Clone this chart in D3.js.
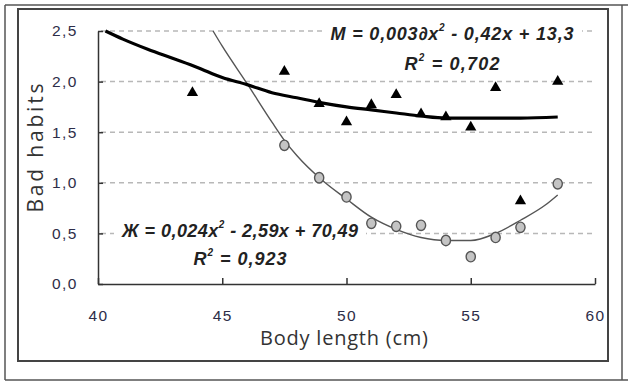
<!doctype html>
<html lang="en">
  <head>
    <meta charset="UTF-8" />
    <title>Bad habits vs body length</title>
    <script src="https://d3js.org/d3.v7.min.js"></script>
    <style>
      body {
        margin: 0;
        padding: 0;
        background: #fff;
      }

      .axis path,
      .axis line {
        fill: none;
        stroke: #333;
        stroke-width: 1.5px;
      }

      .axis text {
        font-family: 'Liberation Sans', Arial, sans-serif;
        font-size: 15.5px;
        fill: #2d2d48;
        letter-spacing: 1.5px;
      }

      .grid {
        stroke: #b8b8b8;
        stroke-width: 1.5px;
        stroke-dasharray: 5 4;
      }

      .eq {
        font-family: 'Liberation Sans Narrow', 'Liberation Sans', Arial, sans-serif;
        font-size: 18px;
        font-weight: bold;
        font-style: italic;
        fill: #222;
      }

      .title {
        font-family: 'Open Sans', sans-serif;
        font-size: 20px;
        fill: #333;
      }
    </style>
  </head>
  <body>
    <svg id="chart" width="635" height="386"></svg>

    <script>
      // Males (triangles)
      const maleX = [43.8, 47.5, 48.9, 50, 51, 52, 53, 54, 55, 56, 57, 58.5];
      const maleY = [1.89, 2.1, 1.78, 1.6, 1.77, 1.87, 1.68, 1.65, 1.55, 1.94, 0.82, 2.0];

      // Females (circles)
      const femaleX = [47.5, 48.9, 50, 51, 52, 53, 54, 55, 56, 57, 58.5];
      const femaleY = [1.37, 1.05, 0.86, 0.6, 0.57, 0.58, 0.43, 0.27, 0.46, 0.56, 0.99];

      // trend lines
      const maleTrendX = [40.3, 41, 42, 43, 44, 45, 46, 47, 48, 49, 50, 51, 52, 53, 54, 55, 56, 57, 58.5];
      const maleTrendY = [2.5, 2.42, 2.32, 2.23, 2.14, 2.04, 1.97, 1.89, 1.84, 1.79, 1.75, 1.72, 1.69, 1.66, 1.64, 1.64, 1.64, 1.64, 1.65];
      const femaleTrendX = [44.63, 45, 46, 47, 47.5, 48, 49, 50, 51, 52, 53, 54, 55, 56, 57, 58, 58.5];
      const femaleTrendY = [2.5, 2.35, 1.98, 1.6, 1.42, 1.27, 1.03, 0.84, 0.66, 0.54, 0.46, 0.43, 0.43, 0.5, 0.63, 0.78, 0.88];

      const xTicks = [40, 45, 50, 55, 60];
      const yTicks = [0, 0.5, 1, 1.5, 2, 2.5];

      const svg = d3.select('#chart');

      // frames
      const frame = svg.append('g').attr('fill', 'none');
      frame
        .append('path')
        .attr('d', 'M5,5H628M5,380H628M5,5V380M622,5V380')
        .attr('stroke', '#555')
        .attr('stroke-width', 1.5);
      frame
        .append('rect')
        .attr('x', 18)
        .attr('y', 9)
        .attr('width', 590)
        .attr('height', 352)
        .attr('stroke', '#444')
        .attr('stroke-width', 2);

      const x = d3.scaleLinear().domain([40, 60]).range([98, 595]);
      const y = d3.scaleLinear().domain([0, 2.5]).range([284, 31]);

      // grid
      svg
        .selectAll('.grid')
        .data(yTicks.filter((d) => d > 0))
        .enter()
        .append('line')
        .attr('class', 'grid')
        .attr('x1', x(40) + 3)
        .attr('x2', x(60))
        .attr('y1', (d) => y(d))
        .attr('y2', (d) => y(d));

      // white boxes behind the equations (hide the grid)
      svg
        .append('rect')
        .attr('x', 324)
        .attr('y', 20)
        .attr('width', 258)
        .attr('height', 54)
        .attr('fill', '#fff');
      svg
        .append('rect')
        .attr('x', 114)
        .attr('y', 218)
        .attr('width', 252)
        .attr('height', 52)
        .attr('fill', '#fff');

      const comma = (d) => d3.format('.1f')(d).replace('.', ',');

      svg
        .append('g')
        .attr('class', 'axis')
        .attr('transform', `translate(${x(40)},0)`)
        .call(
          d3.axisLeft(y).tickValues(yTicks).tickSize(-5).tickPadding(20).tickSizeOuter(0).tickFormat(comma),
        );

      svg
        .append('g')
        .attr('class', 'axis')
        .attr('transform', `translate(0,${y(0)})`)
        .call(d3.axisBottom(x).tickValues(xTicks).tickSize(-6).tickPadding(26).tickSizeOuter(0));

      // trend lines
      const line = d3
        .line()
        .x((d) => x(d[0]))
        .y((d) => y(d[1]))
        .curve(d3.curveMonotoneX);

      svg
        .append('path')
        .attr('d', line(femaleTrendX.map((d, i) => [d, femaleTrendY[i]])))
        .attr('fill', 'none')
        .attr('stroke', '#555')
        .attr('stroke-width', 1.4);

      svg
        .append('path')
        .attr('d', line(maleTrendX.map((d, i) => [d, maleTrendY[i]])))
        .attr('fill', 'none')
        .attr('stroke', '#000')
        .attr('stroke-width', 3.2);

      // markers
      svg
        .selectAll('.tri')
        .data(maleX)
        .enter()
        .append('path')
        .attr('d', d3.symbol(d3.symbolTriangle, 55))
        .attr('transform', (d, i) => `translate(${x(d)},${y(maleY[i])})`)
        .attr('fill', '#000');

      svg
        .selectAll('.dot')
        .data(femaleX)
        .enter()
        .append('ellipse')
        .attr('cx', (d) => x(d))
        .attr('cy', (d, i) => y(femaleY[i]))
        .attr('rx', 4.6)
        .attr('ry', 5.2)
        .attr('fill', '#c4c4c4')
        .attr('stroke', '#555')
        .attr('stroke-width', 1.4);

      // equation labels
      function equation(cx, y1, y2, name, eq1, eq2, r2, w1, w2) {
        const t = svg
          .append('text')
          .attr('class', 'eq')
          .attr('x', cx)
          .attr('y', y1)
          .attr('text-anchor', 'middle')
          .attr('textLength', w1)
          .attr('lengthAdjust', 'spacing');
        t.append('tspan').text(name + ' = ' + eq1);
        t.append('tspan').attr('dy', -9).attr('font-size', 10).text('2');
        t.append('tspan').attr('dy', 9).text(' ' + eq2);

        const r = svg
          .append('text')
          .attr('class', 'eq')
          .attr('x', cx)
          .attr('y', y2)
          .attr('text-anchor', 'middle')
          .attr('textLength', w2)
          .attr('lengthAdjust', 'spacing');
        r.append('tspan').text('R');
        r.append('tspan').attr('dy', -9).attr('font-size', 10).text('2');
        r.append('tspan').attr('dy', 9).text(' = ' + r2);
      }

      equation(452, 40, 70, 'M', '0,003∂x', '- 0,42x + 13,3', '0,702', 243, 95);
      equation(240, 237, 265, 'Ж', '0,024x', '- 2,59x + 70,49', '0,923', 236, 93);

      // axis titles
      svg
        .append('text')
        .attr('class', 'title')
        .attr('x', 344)
        .attr('y', 345)
        .attr('text-anchor', 'middle')
        .attr('textLength', 168)
        .text('Body length (cm)');

      svg
        .append('text')
        .attr('class', 'title')
        .attr('transform', 'translate(43,148) rotate(-90)')
        .attr('text-anchor', 'middle')
        .attr('textLength', 129)
        .style('font-size', '21px')
        .text('Bad habits');
    </script>
  </body>
</html>
